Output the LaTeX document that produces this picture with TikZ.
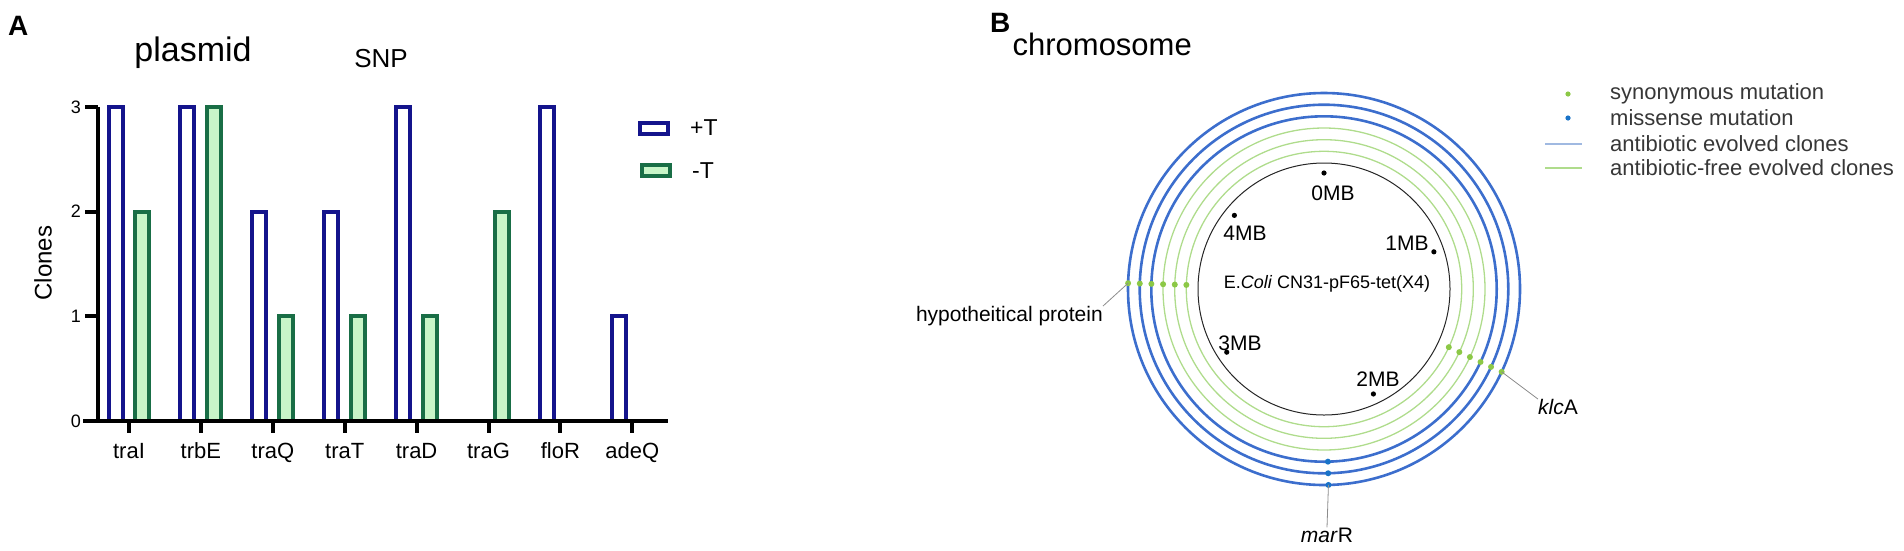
\documentclass[tikz,border=0pt]{standalone}
\usepackage{fontspec}
\setmainfont{Liberation Sans}
\usetikzlibrary{positioning,calc}

\definecolor{barblue}{RGB}{20,20,140}
\definecolor{bargreen}{RGB}{25,110,70}
\definecolor{barfill}{RGB}{200,245,200}
\definecolor{ringblue}{RGB}{60,110,205}
\definecolor{ringgreen}{RGB}{175,220,140}
\definecolor{syngreen}{RGB}{140,200,70}
\definecolor{misblue}{RGB}{25,115,200}
\definecolor{leadgray}{RGB}{140,140,140}
\definecolor{legtext}{RGB}{55,55,55}

\newcommand{\fsz}[1]{\fontsize{#1}{#1}\selectfont}

\begin{document}
\begin{tikzpicture}[x=1pt, y=-1pt,
  txt/.style = {inner sep=0pt},
  plusbar/.style = {draw=barblue, line width=4pt, fill=white},
  minusbar/.style = {draw=bargreen, line width=4pt, fill=barfill},
  axis/.style = {line width=4pt, black},
  greenring/.style = {draw=ringgreen, line width=1.3pt},
  bluering/.style = {draw=ringblue, line width=2.6pt},
  lead/.style = {draw=leadgray, line width=0.8pt}]
\useasboundingbox (0,0) rectangle (1904,550);

% panel A
\node[txt, anchor=base west, font=\fsz{28}\bfseries] (pa) at (8,35) {A};
\node[txt, anchor=base, font=\fsz{34}] (plas) at (193,61) {plasmid};
\node[txt, anchor=base, font=\fsz{26}] (snp) at (381,67) {SNP};

\foreach \gene/\p/\m [count=\i from 0] in {traI/3/2, trbE/3/3, traQ/2/1, traT/2/1,
    traD/3/1, traG/0/2, floR/3/0, adeQ/1/0} {
  \pgfmathsetmacro{\c}{129+71.9*\i}
  \ifnum\p>0 \draw[plusbar] ({\c-20.5},421) rectangle ({\c-6.5},{421-104.7*\p}); \fi
  \ifnum\m>0 \draw[minusbar] ({\c+6},421) rectangle ({\c+20},{421-104.7*\m}); \fi
  \draw[axis] (\c,421) -- (\c,433);
  \node[txt, anchor=base, font=\fsz{22}] (g\i) at (\c,458) {\gene};
}

\draw[axis] (98,107) -- (98,421);
\draw[axis] (83,421) -- (668,421);
\foreach \v in {0,...,3} {
  \draw[axis] (85,{421-104.7*\v}) -- (98,{421-104.7*\v});
  \node[txt, anchor=east, font=\fsz{18}] (t\v) at (81,{421-104.7*\v}) {\v};
}
\node[txt, rotate=90, font=\fsz{24}] (clones) at (43,263) {Clones};

% legend A
\draw[plusbar, line width=3.5pt] (640,123) rectangle (668,134);
\draw[minusbar, line width=3.5pt] (642,165) rectangle (670,176);
\node[txt, anchor=west, font=\fsz{23}] (lp) at (690,128) {+T};
\node[txt, anchor=west, font=\fsz{23}] (lm) at (692,171) {-T};

% panel B
\node[txt, anchor=base west, font=\fsz{28}\bfseries] (pb) at (990,32) {B};
\node[txt, anchor=base east, font=\fsz{31}] (chrom) at (1192,55) {chromosome};

\coordinate (ori) at (1324,289);
\draw[black!85, line width=1pt] (ori) circle[radius=126];
\foreach \r in {137.7,149.3,161} \draw[greenring] (ori) circle[radius=\r];
\foreach \r in {172.7,184.3,196} \draw[bluering] (ori) circle[radius=\r];

% mutations
\foreach \r in {137.7,149.3,161,172.7,184.3,196} {
  \fill[syngreen] ($(ori)+(181.7:\r)$) circle[radius=3];
  \fill[syngreen] ($(ori)+(25:\r)$) circle[radius=3];
}
\foreach \r in {172.7,184.3,196} \fill[misblue] ($(ori)+(88.7:\r)$) circle[radius=3];
\coordinate (hp) at ($(ori)+(181.7:196)$);
\coordinate (kl) at ($(ori)+(25:196)$);
\coordinate (mr) at ($(ori)+(88.7:196)$);

% positions in MB
\foreach \a/\lab/\x/\y in {-90/0MB/1333/193, -140.6/4MB/1245/233, -18.7/1MB/1407/243,
    147/3MB/1240/343, 64.8/2MB/1378/379} {
  \fill[black] ($(ori)+(\a:116)$) circle[radius=2.6];
  \node[txt, font=\fsz{21}] (m\lab) at (\x,\y) {\lab};
}
\node[txt, font=\fsz{18}] (strain) at (1327,284) {E.\textit{Coli} CN31-pF65-tet(X4)};

\node[txt, anchor=east, font=\fsz{21}] (hplab) at (1103,316) {hypotheitical protein};
\node[txt, font=\fsz{21}] (kllab) at (1558,407) {\textit{klc}A};
\node[txt, font=\fsz{21}] (mrlab) at (1327,535) {\textit{mar}R};
\draw[lead] (hp) -- (hplab.north east);
\draw[lead] (kl) -- (kllab.north west);
\draw[lead] (mr) -- (mrlab.north);

% legend B
\fill[syngreen] (1568,94) circle[radius=2.6];
\fill[misblue] (1568,118) circle[radius=2.6];
\coordinate (lb1) at (1545,144);
\coordinate (lb2) at (1545,168);
\draw[draw={rgb,255:red,160;green,185;blue,225}, line width=1.5pt] (lb1) -- ++(37,0);
\draw[draw=ringgreen, line width=1.5pt] (lb2) -- ++(37,0);
\node[txt, anchor=west, font=\fsz{22}, text=legtext] (ls) at (1610,94) {synonymous mutation};
\node[txt, anchor=west, font=\fsz{22}, text=legtext] (lmis) at (1610,118) {missense mutation};
\node[txt, anchor=west, font=\fsz{22}, text=legtext] (lab) at (1610,144) {antibiotic evolved clones};
\node[txt, anchor=west, font=\fsz{22}, text=legtext] (lfree) at (1610,168) {antibiotic-free evolved clones};
\end{tikzpicture}
\end{document}
